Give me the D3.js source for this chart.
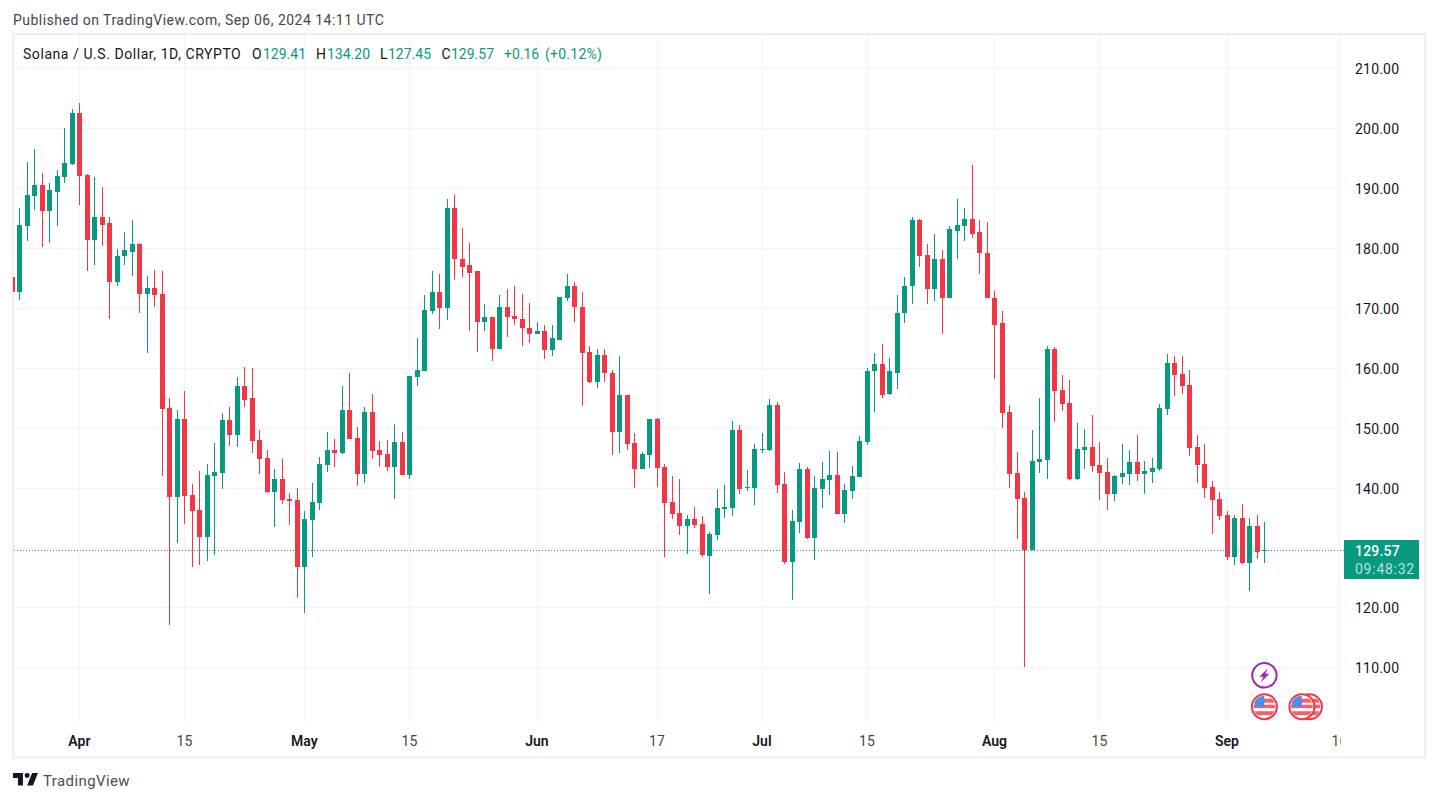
<!DOCTYPE html>
<html>
<head>
<meta charset="utf-8">
<script src="https://cdn.jsdelivr.net/npm/d3@7"></script>
<style>
html,body{margin:0;padding:0;background:#fff;overflow:hidden}
svg{display:block}
text{font-family:Roboto,sans-serif;font-size:14px;fill:#131722}
</style>
</head>
<body>
<svg id="c" width="1438" height="802"></svg>
<script>
const startDate = "2024-03-23";
const opens = [175.1,172.6,183.7,188.7,190.6,186.1,189.4,191.9,194.1,
202.6,192.2,181.4,185.2,184.1,174.4,178.6,179.4,180.7,172.4,
173.4,172.4,153.3,138.4,151.4,138.8,136.3,131.8,141.9,142.4,
151.3,148.8,156.9,154.9,147.9,144.9,139.2,141.4,138.1,137.9,
126.7,134.6,137.4,143.7,146.2,145.7,152.9,148.2,142.2,152.7,
146.2,145.6,143.4,147.6,142.1,158.4,159.4,169.4,172.6,169.9,
186.7,178.2,177.1,176.1,167.6,168.4,163.2,170.1,168.6,168.2,166.7,
165.6,166.1,162.9,164.7,171.7,173.6,170.2,162.6,157.7,162.2,
159.2,149.2,155.4,147.4,143.1,145.4,151.4,143.4,137.6,135.7,
133.6,134.7,133.9,128.6,132.1,136.4,136.6,149.6,139.9,139.9,
146.3,146.3,153.8,140.6,127.6,134.3,143.1,131.6,139.8,141.3,
142.1,135.6,139.4,141.8,147.6,159.4,160.7,155.6,159.2,169.1,
173.6,184.6,178.9,173.1,178.1,171.7,182.9,183.7,184.9,182.6,179.2,
171.7,167.4,152.6,142.4,138.3,129.6,144.3,144.6,163.1,156.3,
154.1,141.4,146.3,146.8,143.8,142.6,138.9,141.8,142.3,144.3,
142.3,142.6,143.1,153.1,160.8,158.9,157.1,146.8,143.9,140.1,138.1,
135.4,128.4,134.9,127.4,133.6,129.41];
const highs = [175.1,186.7,194.4,196.6,192.6,190.9,193.1,200.0,203.2,
204.2,192.4,191.9,190.2,185.2,179.9,182.7,184.6,180.9,175.4,
176.4,176.1,154.9,152.9,156.1,140.6,142.8,143.9,147.4,152.4,
153.4,158.4,160.2,159.9,149.6,146.2,143.1,144.7,139.1,139.9,
136.1,140.7,145.1,149.2,148.1,156.9,159.2,150.1,153.4,155.7,
147.7,147.9,150.7,149.2,158.7,164.9,172.1,176.1,175.6,188.2,
188.9,183.4,180.9,176.2,170.6,168.4,172.2,173.2,173.7,172.4,170.9,
167.7,167.1,167.2,171.9,175.6,174.4,172.7,163.7,163.1,163.2,
159.7,161.9,155.4,149.1,145.9,151.4,151.7,143.9,141.9,141.4,
135.4,136.7,135.2,132.6,139.8,140.4,151.1,150.4,142.9,147.3,
149.1,154.8,154.3,142.6,136.3,144.1,143.4,141.9,144.3,146.1,
145.9,140.6,143.6,148.6,159.9,162.5,163.9,161.7,172.2,175.1,
185.1,184.9,180.6,182.4,179.6,183.6,188.2,186.7,193.9,184.7,184.4,
172.9,169.4,153.8,145.9,139.3,149.6,154.9,163.6,163.4,158.8,
157.9,150.8,149.8,152.1,147.6,144.9,142.1,147.3,146.3,148.8,
144.4,144.9,153.9,162.3,161.9,161.9,159.6,148.8,147.3,141.1,139.3,
136.1,135.4,137.3,134.9,135.4,134.20];
const lows = [172.6,171.4,181.1,186.4,180.2,180.9,183.6,190.9,193.9,
187.1,176.1,177.1,180.4,168.2,173.7,177.1,175.4,169.2,162.5,
170.2,141.9,117.1,130.8,133.9,126.8,127.1,127.8,128.8,139.8,
146.9,146.8,153.4,145.7,142.2,139.1,133.4,137.2,133.7,121.6,
119.1,128.4,136.2,142.6,143.4,145.6,148.1,140.2,140.7,144.7,
143.4,142.7,138.1,142.1,141.4,156.9,159.4,168.9,166.4,167.9,
174.6,175.1,166.1,162.6,166.1,161.2,163.2,165.1,167.2,163.6,164.1,
165.6,161.4,161.9,164.6,171.2,167.7,153.6,157.4,156.7,157.6,
145.4,145.7,146.2,139.9,143.1,143.2,140.1,128.4,134.7,132.1,
128.9,133.2,128.4,122.3,131.3,134.9,135.3,138.9,139.4,137.1,
145.8,146.1,139.1,127.3,121.3,132.4,131.4,127.9,136.6,138.8,
135.6,134.1,138.1,141.8,147.1,152.6,154.9,155.4,156.4,167.4,
170.7,176.9,170.7,171.1,165.6,171.7,178.2,181.2,181.7,175.6,171.6,
158.1,149.9,139.9,131.4,110.1,129.6,142.4,141.4,150.9,152.8,
141.3,141.3,143.1,142.6,137.9,136.3,137.8,140.6,140.4,141.1,
138.9,140.8,142.8,152.1,155.3,155.6,145.3,140.8,138.3,132.3,134.6,
127.9,127.1,127.3,122.8,128.1,127.45];
const closes = [172.6,183.9,188.9,190.6,186.1,189.6,192.1,194.2,202.6,
192.1,181.4,185.2,183.9,174.4,178.7,179.6,180.7,172.4,173.4,
172.2,153.1,138.4,151.4,138.6,136.1,131.8,142.1,142.6,151.3,
148.8,156.9,154.7,147.7,144.7,139.2,141.4,137.9,137.7,126.7,
134.7,137.6,143.9,146.2,145.7,152.9,148.1,142.2,152.7,146.1,
145.4,143.4,147.6,142.1,158.6,159.6,169.6,172.6,169.9,186.7,
178.1,176.9,175.9,167.6,168.4,163.2,170.1,168.4,168.1,166.6,165.6,
166.1,162.9,164.9,171.9,173.6,170.1,162.4,157.7,162.2,159.1,
149.2,155.4,147.2,143.1,145.6,151.4,143.2,137.4,135.6,133.6,
134.7,133.7,128.7,132.3,136.6,136.8,149.6,139.8,140.1,146.4,
146.5,153.8,140.4,127.6,134.4,143.1,131.6,139.9,141.4,142.1,
135.6,139.6,141.9,147.8,159.4,160.6,155.5,159.4,169.2,173.7,
184.6,178.7,173.1,178.1,171.7,183.1,183.9,184.9,182.4,179.1,171.6,
167.2,152.5,142.3,138.1,129.6,144.4,144.8,163.1,156.1,153.9,
141.4,146.4,146.8,143.6,142.4,138.9,141.9,142.4,144.3,142.3,
142.8,143.3,153.3,160.8,158.8,156.9,146.6,143.8,139.9,137.9,135.3,
128.4,134.9,127.4,133.6,129.3,129.57];

const priceTicks = [110,120,130,140,150,160,170,180,190,200,210];
const timeTicks = [["2024-04-01","Apr",1],["2024-04-15","15",0],["2024-05-01","May",1],["2024-05-15","15",0],
  ["2024-06-01","Jun",1],["2024-06-17","17",0],["2024-07-01","Jul",1],["2024-07-15","15",0],
  ["2024-08-01","Aug",1],["2024-08-15","15",0],["2024-09-01","Sep",1],["2024-09-16","16",0]];
const lastPrice = 129.57, countdown = "09:48:32";
const eventDates = ["2024-09-06","2024-09-11","2024-09-12"];

const UP="#089981", DOWN="#F23645", GRID="#f3f3f5", FRAME="#eeeef6";
const L=14, R=1339.5, T=35, B=722;

const parse=d3.utcParse("%Y-%m-%d");
const x=d3.scaleUtc().domain([parse("2024-04-01"),parse("2024-09-01")]).range([79.4,79.4+153*7.5]);
const y=d3.scaleLinear().domain([110,210]).range([667.3,68.3]);
const start=parse(startDate);
const candles=opens.map((o,i)=>({date:d3.utcDay.offset(start,i),o,h:highs[i],l:lows[i],c:closes[i]}));

const svg=d3.select("#c");
svg.append("defs").append("clipPath").attr("id","plot").append("rect").attr("x",L-1).attr("y",T).attr("width",R-L+1).attr("height",B-T);
svg.select("defs").append("clipPath").attr("id","axisclip").append("rect").attr("x",0).attr("y",723).attr("width",1341).attr("height",34);

// grid
const g=svg.append("g");
g.selectAll("rect.h").data(priceTicks).join("rect").attr("class","h")
 .attr("x",L).attr("width",R-L).attr("y",d=>Math.round(y(d))).attr("height",1).attr("fill",GRID);
g.selectAll("rect.v").data(timeTicks.slice(0,11)).join("rect").attr("class","v")
 .attr("x",d=>Math.round(x(parse(d[0])))).attr("width",1).attr("y",T).attr("height",B-T).attr("fill",GRID);
g.append("rect").attr("x",1339).attr("y",T).attr("width",1).attr("height",B-T).attr("fill",GRID);

// frame
svg.append("rect").attr("x",13).attr("y",34).attr("width",1412).attr("height",723.5).attr("fill","none").attr("stroke",FRAME).attr("stroke-width",2);

// candles
const cg=svg.append("g").attr("clip-path","url(#plot)");
const col=d=>d.c>=d.o?UP:DOWN;
const px=d=>Math.round(x(d.date));
cg.selectAll("rect.w").data(candles).join("rect").attr("class","w")
 .attr("x",px).attr("width",1).attr("y",d=>Math.round(y(d.h))).attr("height",d=>Math.max(1,Math.round(y(d.l))-Math.round(y(d.h)))).attr("fill",col);
cg.selectAll("rect.b").data(candles).join("rect").attr("class","b")
 .attr("x",d=>px(d)-2).attr("width",5)
 .attr("y",d=>Math.round(y(Math.max(d.o,d.c))))
 .attr("height",d=>Math.max(1,Math.round(y(Math.min(d.o,d.c)))-Math.round(y(Math.max(d.o,d.c)))))
 .attr("fill",col);

// last price line
svg.append("line").attr("x1",L).attr("x2",1345).attr("y1",Math.round(y(lastPrice))+.5).attr("y2",Math.round(y(lastPrice))+.5)
 .attr("stroke",UP).attr("stroke-width",1).attr("stroke-dasharray","1 2");

// price axis labels (the 130 label is covered by the last-price tag)
svg.append("g").selectAll("text").data(priceTicks.filter(d=>d!==130)).join("text")
 .attr("x",1355).attr("y",d=>y(d)+1).attr("dy","0.35em").style("letter-spacing","0.2px").text(d=>d3.format(".2f")(d));

// last price label
const ly=Math.round(y(lastPrice));
svg.append("rect").attr("x",1344).attr("y",ly-10).attr("width",75).attr("height",39).attr("fill",UP);
svg.append("text").attr("x",1355).attr("y",ly+1).attr("dy","0.35em").style("fill","#fff").style("font-weight",500).style("letter-spacing","0.2px").text(d3.format(".2f")(lastPrice));
svg.append("text").attr("x",1355).attr("y",ly+19).attr("dy","0.35em").style("fill","rgba(255,255,255,.72)").style("letter-spacing","0.75px").text(countdown);

// time axis labels
svg.append("g").attr("clip-path","url(#axisclip)").selectAll("text").data(timeTicks).join("text")
 .attr("x",d=>x(parse(d[0]))).attr("y",741).attr("dy","0.35em").attr("text-anchor","middle")
 .style("font-weight",d=>d[2]?600:400).style("fill",d=>d[2]?"#131722":"#434651").text(d=>d[1]);

// header
svg.append("text").attr("x",13).attr("y",20).attr("dy","0.35em").style("fill","#434651").style("letter-spacing","0.48px").text("Published on TradingView.com, Sep 06, 2024 14:11 UTC");
const legend=[[23,"Solana / U.S. Dollar, 1D, CRYPTO",0,0.56],[252,"O",0,0],[263,"129.41",1,0],[316,"H",0,0],[327,"134.20",1,0],[380,"L",0,0],[388,"127.45",1,0],[441.5,"C",0,0],[451,"129.57",1,0],[504,"+0.16",1,0],[545,"(+0.12%)",1,0.25]];
svg.append("g").selectAll("text").data(legend).join("text")
 .attr("x",d=>d[0]).attr("y",54).attr("dy","0.35em").style("fill",d=>d[2]?UP:"#131722").style("letter-spacing",d=>d[3]+"px").text(d=>d[1]);

// events
const flag=(cx,cy,id)=>{
  const f=svg.append("g");
  f.append("clipPath").attr("id",id).append("circle").attr("cx",cx).attr("cy",cy).attr("r",11);
  f.append("circle").attr("cx",cx).attr("cy",cy).attr("r",12.5).attr("fill","#fff").attr("stroke",DOWN).attr("stroke-width",2);
  const i=f.append("g").attr("clip-path",`url(#${id})`);
  i.append("rect").attr("x",cx-11).attr("y",cy-11).attr("width",22).attr("height",22).attr("fill","#fff");
  [[-8,4],[-2,3.5],[4.5,4]].forEach(s=>i.append("rect").attr("x",cx-11).attr("y",cy+s[0]).attr("width",22).attr("height",s[1]).attr("fill","#f4606c"));
  i.append("rect").attr("x",cx-10).attr("y",cy-11).attr("width",10).attr("height",11).attr("fill","#4a90e8");
};
const ey=706.7;
flag(x(parse(eventDates[2])),ey,"f3");
flag(x(parse(eventDates[1])),ey,"f2");
flag(x(parse(eventDates[0])),ey,"f1");
const ex=x(parse(eventDates[0]));
svg.append("circle").attr("cx",ex).attr("cy",675.3).attr("r",12.2).attr("fill","#fff").attr("stroke","#9C27B0").attr("stroke-width",2);
svg.append("path").attr("transform",`translate(${ex},675.3)`).attr("d","M3.5-7 L-5 1.5 L-1 1.5 L-3.5 7 L5-1.5 L1-1.5 Z").attr("fill","#9C27B0");

// logo
svg.append("path").attr("transform","translate(11.3,768) scale(0.833)")
 .attr("d","M14 6H2v6h6v9h6V6Zm12 15h-7l6-15h7l-6 15Zm-7-9a3 3 0 1 0 0-6 3 3 0 0 0 0 6Z").attr("fill","#131722");
svg.append("text").attr("x",43).attr("y",781).attr("dy","0.35em").style("font-size","15px").style("letter-spacing","0.4px").style("fill","#4a4e59").text("TradingView");
</script>
</body>
</html>
